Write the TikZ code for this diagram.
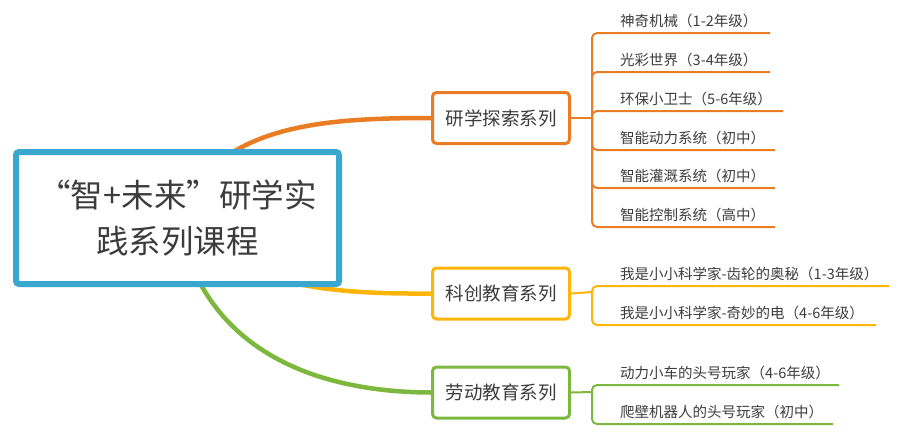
\documentclass[tikz,border=0pt]{standalone}
\usepackage{fontspec}
\newfontfamily\cjk{Noto Sans CJK SC}
\usetikzlibrary{backgrounds}
\definecolor{cBlue}{RGB}{58,167,206}
\definecolor{cOrange}{RGB}{234,124,36}
\definecolor{cGold}{RGB}{255,180,10}
\definecolor{cGreen}{RGB}{124,184,62}
\definecolor{cText}{RGB}{60,60,60}
\tikzset{
  rootbox/.style={draw=cBlue, line width=6pt, fill=white, rounded corners=3pt,
    minimum width=323pt, minimum height=132pt, align=center, text=cText,
    font=\cjk\fontsize{32.5}{46}\selectfont, inner sep=0pt},
  branchbox/.style={line width=3pt, fill=white, rounded corners=4pt,
    minimum width=137pt, minimum height=51pt, text=cText,
    font=\cjk\fontsize{18.5}{22}\selectfont, inner sep=0pt},
  leaftext/.style={anchor=west, inner sep=0pt, text=cText,
    font=\cjk\fontsize{14.5}{17}\selectfont},
  mainlink/.style={line width=4.5pt},
  leaflink/.style={line width=2pt, rounded corners=5pt},
}
\begin{document}
\begin{tikzpicture}[x=1pt,y=-1pt]
\useasboundingbox (0,0) rectangle (900,432);
% root and branches
\node[rootbox] (root) at (177.5,218) {“智+未来”研学实\\践系列课程};
\node[branchbox, draw=cOrange] (b1) at (501,118) {研学探索系列};
\node[branchbox, draw=cGold] (b2) at (501,293.5) {科创教育系列};
\node[branchbox, draw=cGreen] (b3) at (501,392.5) {劳动教育系列};
% main curves behind
\begin{scope}[on background layer]
\draw[mainlink, cOrange] (root.center) .. controls (215,125) and (320,118) .. (b1.west);
\draw[mainlink, cGold] (root.center) .. controls (240,290) and (340,294) .. (b2.west);
\draw[mainlink, cGreen] (root.center) .. controls (200,340) and (300,392) .. (b3.west);
\end{scope}
% junctions
\coordinate (j1) at (592,118);
\coordinate (j2) at (592,292);
\coordinate (j3) at (592,392);
% leaf ends
\coordinate (e11) at (770,33);
\coordinate (e12) at (770,72);
\coordinate (e13) at (783,111);
\coordinate (e14) at (775,150);
\coordinate (e15) at (775,188);
\coordinate (e16) at (775,227);
\coordinate (e21) at (889,286);
\coordinate (e22) at (876,325);
\coordinate (e31) at (839,385);
\coordinate (e32) at (833,424);
% leaf texts
\node[leaftext] (t11) at (620,21) {神奇机械（1-2年级）};
\node[leaftext] (t12) at (620,60) {光彩世界（3-4年级）};
\node[leaftext] (t13) at (620,99) {环保小卫士（5-6年级）};
\node[leaftext] (t14) at (620,138) {智能动力系统（初中）};
\node[leaftext] (t15) at (620,176) {智能灌溉系统（初中）};
\node[leaftext] (t16) at (620,215) {智能控制系统（高中）};
\node[leaftext] (t21) at (620,274) {我是小小科学家-齿轮的奥秘（1-3年级）};
\node[leaftext] (t22) at (620,313) {我是小小科学家-奇妙的电（4-6年级）};
\node[leaftext] (t31) at (620,373) {动力小车的头号玩家（4-6年级）};
\node[leaftext] (t32) at (620,412) {爬壁机器人的头号玩家（初中）};
% branch connectors
\draw[leaflink, cOrange] (b1.east) -- (j1);
\foreach \e in {e11,e12,e13,e14,e15,e16} \draw[leaflink, cOrange] (j1) |- (\e);
\draw[leaflink, cGold] (b2.east) -- (j2);
\foreach \e in {e21,e22} \draw[leaflink, cGold] (j2) |- (\e);
\draw[leaflink, cGreen] (b3.east) -- (j3);
\foreach \e in {e31,e32} \draw[leaflink, cGreen] (j3) |- (\e);
\end{tikzpicture}
\end{document}
